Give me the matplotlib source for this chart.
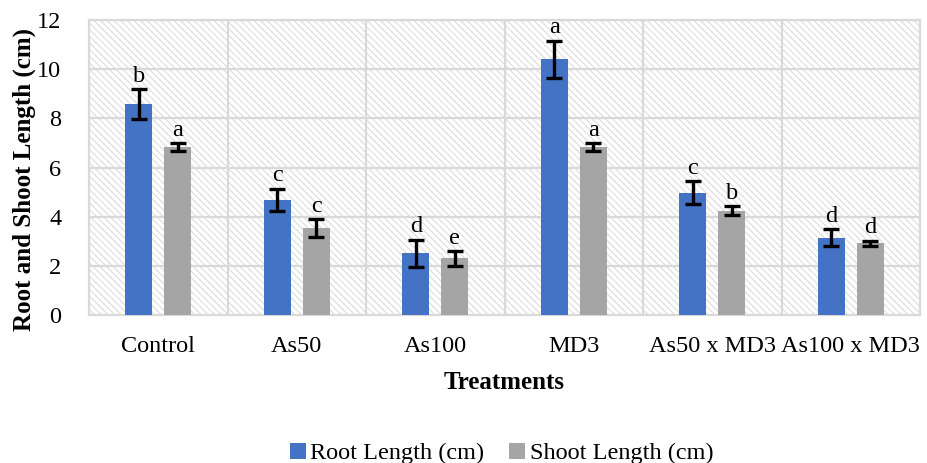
import numpy as np
import matplotlib.pyplot as plt
from matplotlib.patches import Rectangle

treatments = ["Control", "As50", "As100", "MD3", "As50 x MD3", "As100 x MD3"]
root = [8.58, 4.68, 2.52, 10.41, 4.97, 3.15]
root_err = [0.60, 0.45, 0.55, 0.75, 0.47, 0.33]
shoot = [6.83, 3.54, 2.30, 6.83, 4.24, 2.92]
shoot_err = [0.15, 0.35, 0.30, 0.16, 0.18, 0.10]
root_letters = ["b", "c", "d", "a", "c", "d"]
shoot_letters = ["a", "c", "e", "a", "b", "d"]

plt.rcParams['font.family'] = ['Liberation Serif', 'DejaVu Serif']
plt.rcParams['hatch.linewidth'] = 0.8

fig = plt.figure(figsize=(9.27, 4.63), dpi=100)
ax = fig.add_axes([89/927, 1-315/463, 831/927, 295/463])

# hatched plot area background
bg = Rectangle((0, 0), 1, 1, transform=ax.transAxes, facecolor='white',
               edgecolor='#dcdcdc', linewidth=0, hatch='\\\\\\\\\\', zorder=0)
ax.add_patch(bg)

x = np.arange(len(treatments))
w = 0.195
off = 0.14
ax.bar(x - off, root, w, color='#4472c4', zorder=3, label='Root Length (cm)')
ax.bar(x + off, shoot, w, color='#a5a5a5', zorder=3, label='Shoot Length (cm)')
ax.errorbar(x - off, root, yerr=root_err, fmt='none', ecolor='black',
            elinewidth=2.4, capsize=6, capthick=2.4, zorder=4)
ax.errorbar(x + off, shoot, yerr=shoot_err, fmt='none', ecolor='black',
            elinewidth=2.4, capsize=6, capthick=2.4, zorder=4)

for i in range(len(x)):
    ax.text(x[i] - off, root[i] + root_err[i] + 0.1, root_letters[i],
            ha='center', va='bottom', fontsize=17.5, zorder=5)
    ax.text(x[i] + off, shoot[i] + shoot_err[i] + 0.1, shoot_letters[i],
            ha='center', va='bottom', fontsize=17.5, zorder=5)

ax.set_xlim(-0.5, len(treatments) - 0.5)
ax.set_ylim(0, 12)
ax.set_yticks(range(0, 13, 2))
ax.set_xticks(x)
ax.set_xticklabels(treatments, fontsize=17.5)
ax.tick_params(axis='y', labelsize=17.5, length=0, pad=20)
ax.tick_params(axis='x', length=0, pad=15)

# grid: horizontal at ticks, vertical at category boundaries
for yv in range(2, 13, 2):
    ax.axhline(yv, color='#d9d9d9', linewidth=1.6, zorder=1)
for xb in np.arange(0.5, len(treatments) - 0.5, 1):
    ax.axvline(xb, color='#d9d9d9', linewidth=1.6, zorder=1)
for s in ax.spines.values():
    s.set_color('#d9d9d9')
    s.set_linewidth(1.6)

ax.set_ylabel('Root and Shoot Length (cm)', fontsize=18, fontweight='bold')
ax.yaxis.set_label_coords(-0.064, 0.46)
ax.set_xlabel('Treatments', fontsize=18, fontweight='bold', labelpad=10)

fig.legend(loc='lower center', bbox_to_anchor=(0.541, -0.05), ncol=2, frameon=False,
           fontsize=17.5, handlelength=0.65, handleheight=0.65, handletextpad=0.2,
           columnspacing=1.0)

fig.savefig('out.png', dpi=100)
